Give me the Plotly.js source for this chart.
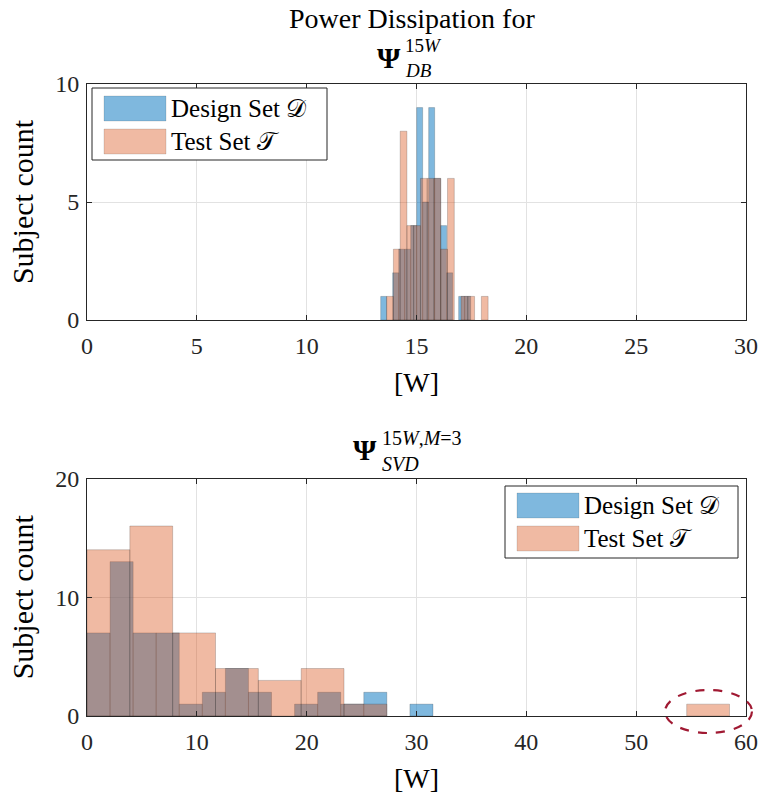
<!DOCTYPE html>
<html>
<head>
<meta charset="utf-8">
<script src="https://cdn.plot.ly/plotly-3.0.1.min.js"></script>
<style>
  html, body { margin: 0; padding: 0; background: #ffffff; }
  #chart { width: 763px; height: 794px; }
</style>
</head>
<body>
<div id="chart"></div>
<script>
// Histogram counts (15 bins per set) for the two power-dissipation models
const topDesignCounts = [1, 0, 2, 3, 3, 4, 9, 5, 9, 6, 4, 2, 0, 1, 1];
const topDesignStart = 13.37;
const topDesignWidth = 0.273;
const topTestCounts = [1, 3, 8, 4, 4, 6, 6, 6, 3, 6, 0, 1, 1, 0, 1];
const topTestStart = 13.64;
const topTestWidth = 0.308;

const botDesignCounts = [7, 13, 7, 7, 1, 2, 4, 2, 0, 1, 2, 1, 2, 0, 1];
const botDesignStart = 0;
const botDesignWidth = 2.1;
const botTestCounts = [14, 16, 7, 4, 3, 4, 1, 0, 0, 0, 0, 0, 0, 0, 1];
const botTestStart = 0;
const botTestWidth = 3.9;

const seriesNames = ['Design Set 𝒟', 'Test Set 𝒯'];
const topXTicks = [0, 5, 10, 15, 20, 25, 30];
const topYTicks = [0, 5, 10];
const botXTicks = [0, 10, 20, 30, 40, 50, 60];
const botYTicks = [0, 10, 20];

const BLUE_FILL = 'rgba(0,114,189,0.5)';
const ORANGE_FILL = 'rgba(217,83,25,0.4)';
const EDGE = 'rgba(0,0,0,0.18)';
const FONT = 'Liberation Serif, Times New Roman, serif';
const INK = 'rgb(38,38,38)';

function histTrace(counts, start, width, fill, name, xa, ya) {
  return {
    type: 'bar',
    name: name,
    x: counts.map((c, i) => start + (i + 0.5) * width),
    y: counts.map(c => (c === 0 ? null : c)),
    width: counts.map(() => width),
    xaxis: xa,
    yaxis: ya,
    marker: { color: fill, line: { color: EDGE, width: 1 } },
    showlegend: false,
    hoverinfo: 'x+y'
  };
}

const traces = [
  histTrace(topDesignCounts, topDesignStart, topDesignWidth, BLUE_FILL, seriesNames[0], 'x', 'y'),
  histTrace(topTestCounts, topTestStart, topTestWidth, ORANGE_FILL, seriesNames[1], 'x', 'y'),
  histTrace(botDesignCounts, botDesignStart, botDesignWidth, BLUE_FILL, seriesNames[0], 'x2', 'y2'),
  histTrace(botTestCounts, botTestStart, botTestWidth, ORANGE_FILL, seriesNames[1], 'x2', 'y2')
];

// page layout in pixels
const W = 763, H = 794;
const M = { l: 87, r: 17, t: 84, b: 78 };
const plotW = W - M.l - M.r;
const plotH = H - M.t - M.b;
const px = x => (x - M.l) / plotW;
const py = y => (H - M.b - y) / plotH;

function axisStyle(range, ticks, domain, anchor, titleText, titleSize, standoff, labelGap) {
  return {
    range: range,
    tickmode: 'array',
    tickvals: ticks,
    ticktext: ticks.map(String),
    domain: domain,
    anchor: anchor,
    showline: true,
    mirror: 'ticks',
    linecolor: INK,
    linewidth: 1,
    ticks: 'inside',
    ticklen: 5,
    tickcolor: INK,
    ticklabelstandoff: labelGap,
    showgrid: true,
    gridcolor: 'rgb(226,226,226)',
    gridwidth: 1,
    zeroline: false,
    fixedrange: true,
    tickfont: { family: FONT, size: 24, color: INK },
    title: { text: titleText, font: { family: FONT, size: titleSize, color: '#000' }, standoff: standoff }
  };
}

const topDomain = [py(320), 1];
const botDomain = [0, py(478.5)];

// legend boxes drawn as shapes + text
function legendShapes(x0, y0, x1, y1, sx0, sx1, rows) {
  const s = [{
    type: 'rect', xref: 'paper', yref: 'paper', layer: 'above',
    x0: px(x0), x1: px(x1), y0: py(y1), y1: py(y0),
    fillcolor: '#ffffff', line: { color: INK, width: 1 }
  }];
  const fills = [BLUE_FILL, ORANGE_FILL];
  rows.forEach((r, i) => {
    s.push({
      type: 'rect', xref: 'paper', yref: 'paper', layer: 'above',
      x0: px(sx0), x1: px(sx1), y0: py(r + 12.5), y1: py(r - 12.5),
      fillcolor: fills[i], line: { color: 'rgba(0,0,0,0.12)', width: 1 }
    });
  });
  return s;
}
function legendTexts(tx, rows) {
  return rows.map((r, i) => ({
    xref: 'paper', yref: 'paper', x: px(tx), y: py(r),
    xanchor: 'left', yanchor: 'middle', showarrow: false,
    text: seriesNames[i], font: { family: FONT, size: 25, color: '#000' }
  }));
}

const shapes = [].concat(
  legendShapes(92, 88, 327, 160, 104, 166, [108.5, 141.5]),
  legendShapes(505, 486, 738, 558, 517, 579, [505.5, 538.5]),
  [{
    type: 'circle', xref: 'paper', yref: 'paper', layer: 'above',
    x0: px(665), x1: px(752), y0: py(733), y1: py(690),
    line: { color: 'rgb(160,25,50)', width: 2.2, dash: 'dash' }
  }]
);

function note(text, x, y, size, xanchor, bold) {
  return {
    xref: 'paper', yref: 'paper', x: px(x), y: py(y),
    xanchor: xanchor, yanchor: 'middle', showarrow: false,
    text: bold ? '<b>' + text + '</b>' : text,
    font: { family: FONT, size: size, color: '#000' }
  };
}

const annotations = [].concat(
  legendTexts(169, [108.5, 141.5]),
  legendTexts(582, [505.5, 538.5]),
  [
    note('Power Dissipation for', 412, 19, 28, 'center', false),
    note('Ψ', 389, 57, 30, 'center', true),
    note('15<i>W</i>', 403, 46, 19, 'left', false),
    note('<i>DB</i>', 403, 70, 19, 'left', false),
    note('Ψ', 365, 449, 30, 'center', true),
    note('15<i>W</i>,<i>M</i>=3', 380, 438, 20, 'left', false),
    note('<i>SVD</i>', 380, 464, 20, 'left', false)
  ]
);

const layout = {
  width: W,
  height: H,
  margin: M,
  paper_bgcolor: '#ffffff',
  plot_bgcolor: '#ffffff',
  barmode: 'overlay',
  bargap: 0,
  showlegend: false,
  font: { family: FONT, color: INK },
  xaxis: axisStyle([0, 30], topXTicks, [0, 1], 'y', '[W]', 28, 14, 4),
  yaxis: axisStyle([0, 10], topYTicks, topDomain, 'x', 'Subject count', 30, 12, 2),
  xaxis2: axisStyle([0, 60], botXTicks, [0, 1], 'y2', '[W]', 28, 14, 4),
  yaxis2: axisStyle([0, 20], botYTicks, botDomain, 'x2', 'Subject count', 30, 12, 2),
  shapes: shapes,
  annotations: annotations
};

Plotly.newPlot('chart', traces, layout, { displayModeBar: false, staticPlot: true });
</script>
</body>
</html>
